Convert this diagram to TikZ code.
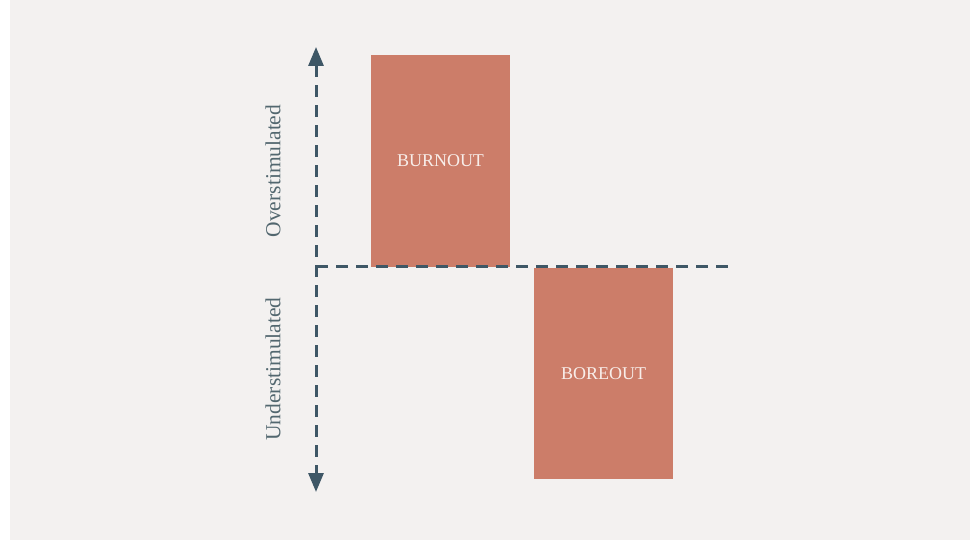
\documentclass[tikz,border=0pt]{standalone}
\usepackage{fontspec}
\setmainfont{Liberation Serif}
\usetikzlibrary{arrows.meta}
\definecolor{pagebg}{HTML}{F3F1F0}
\definecolor{blockfill}{HTML}{CC7D69}
\definecolor{blocktext}{HTML}{F8EEEA}
\definecolor{axiscol}{HTML}{3E5766}
\definecolor{labelcol}{HTML}{52676F}
\tikzset{
  block/.style={fill=blockfill, draw=none, minimum width=139pt, inner sep=0pt,
    text=blocktext, font=\fontsize{18}{21}\selectfont},
  axisline/.style={draw=axiscol, line width=3pt, dash pattern=on 12pt off 8pt},
  sidelabel/.style={text=labelcol, rotate=90, inner sep=0pt,
    font=\fontsize{21.5}{24}\selectfont}
}
\begin{document}
\begin{tikzpicture}[x=1pt,y=-1pt]
  % page with a narrow white strip on the left
  \fill[white] (0,0) rectangle (970,540);
  \fill[pagebg] (10,0) rectangle (970,540);
  \useasboundingbox (0,0) rectangle (970,540);

  % the two blocks
  \node[block, minimum height=212pt] (burnout) at (440.5,161) {BURNOUT};
  \node[block, minimum height=211pt] (boreout) at (603.5,373.5) {BOREOUT};

  % axes
  \coordinate (ytop) at (316,47);
  \coordinate (ybot) at (316,492);
  \coordinate (orig) at (316,267);
  \coordinate (xend) at (729,267);
  \draw[axisline, {Triangle[length=19pt,width=15pt]}-{Triangle[length=19pt,width=15pt]}] (ytop) -- (ybot);
  \draw[axisline] (orig) -- (xend);

  % axis labels
  \node[sidelabel] (over) at (273,171) {Overstimulated};
  \node[sidelabel] (under) at (273,369) {Understimulated};
\end{tikzpicture}
\end{document}
